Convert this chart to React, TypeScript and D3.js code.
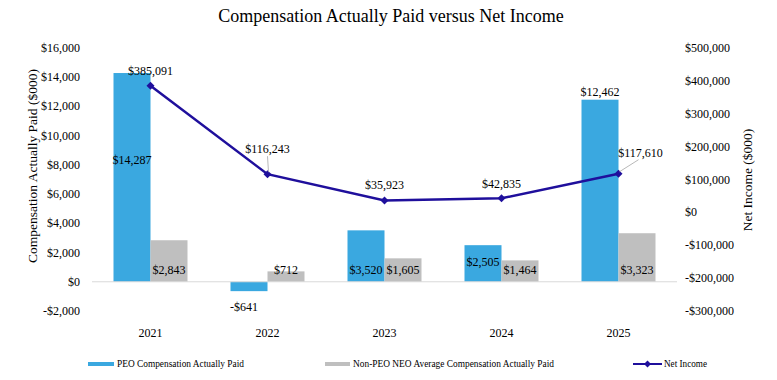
import React from "react";
import * as d3 from "d3";

const years = ["2021", "2022", "2023", "2024", "2025"];
const peoCap = [14287, -641, 3520, 2505, 12462];
const neoCap = [2843, 712, 1605, 1464, 3323];
const netIncome = [385091, 116243, 35923, 42835, 117610];
const leftTicks = [-2000, 0, 2000, 4000, 6000, 8000, 10000, 12000, 14000, 16000];
const rightTicks = [-300000, -200000, -100000, 0, 100000, 200000, 300000, 400000, 500000];

// label placement styling (offsets in px)
const peoLabelMode = ["mid", "below", "base", "baseHigh", "above"];
const niLabelOffset: [number, number, boolean][] = [
  [0, -11, false],
  [0, -21, true],
  [0, -12, false],
  [0, -10, false],
  [22, -17, true],
];

const W = 777;
const H = 380;
const BLUE = "#3AA8E0";
const GRAY = "#BFBFBF";
const NAVY = "#1F0F9C";
const FONT = "Liberation Serif, DejaVu Serif, serif";

const fmt = (v: number) => (v < 0 ? "-$" : "$") + d3.format(",")(Math.abs(v));

export default function App() {
  const x = d3.scaleBand<string>().domain(years).range([92, 677]).paddingInner(0).paddingOuter(0);
  const sub = d3.scaleBand<string>().domain(["peo", "neo"]).range([21.5, 95.5]);
  const yL = d3.scaleLinear().domain([-2000, 16000]).range([311, 48]);
  const yR = d3.scaleLinear().domain([-300000, 500000]).range([311, 48]);
  const bw = sub.bandwidth();
  const cx = (y: string) => (x(y) as number) + x.bandwidth() / 2;

  const line = d3
    .line<number>()
    .x((_, i) => cx(years[i]))
    .y((d) => yR(d));

  const y0 = yL(0);

  return (
    <svg width={W} height={H} style={{ position: "absolute", left: 0, top: 0 }}>
      <rect x={0} y={0} width={W} height={H} fill="#fff" />
      <g fontFamily={FONT}>
        <text x={391} y={22} textAnchor="middle" fontSize={18} fill="#000">
          Compensation Actually Paid versus Net Income
        </text>

        {/* left axis */}
        {leftTicks.map((t) => (
          <text key={t} x={80} y={yL(t) + 4} textAnchor="end" fontSize={12} fill="#000">
            {fmt(t)}
          </text>
        ))}
        <text transform={`translate(37,166) rotate(-90)`} textAnchor="middle" fontSize={13.5} fill="#000">
          Compensation Actually Paid ($000)
        </text>

        {/* right axis */}
        {rightTicks.map((t) => (
          <text key={t} x={685} y={yR(t) + 4} textAnchor="start" fontSize={12} fill="#000">
            {fmt(t)}
          </text>
        ))}
        <text transform={`translate(752,180) rotate(-90)`} textAnchor="middle" fontSize={13.5} fill="#000">
          Net Income ($000)
        </text>

        {/* bars */}
        {years.map((yr, i) => {
          const xb = x(yr) as number;
          const v = peoCap[i];
          const n = neoCap[i];
          return (
            <g key={yr}>
              <rect
                x={xb + (sub("peo") as number)}
                y={Math.min(yL(v), y0)}
                width={bw}
                height={Math.abs(yL(v) - y0)}
                fill={BLUE}
              />
              <rect
                x={xb + (sub("neo") as number)}
                y={Math.min(yL(n), y0)}
                width={bw}
                height={Math.abs(yL(n) - y0)}
                fill={GRAY}
              />
            </g>
          );
        })}

        {/* baseline */}
        <line x1={92} x2={677} y1={y0} y2={y0} stroke="#D9D9D9" strokeWidth={1} />

        {/* category labels */}
        {years.map((yr) => (
          <text key={yr} x={cx(yr)} y={337} textAnchor="middle" fontSize={12} fill="#000">
            {yr}
          </text>
        ))}

        {/* bar labels */}
        {years.map((yr, i) => {
          const xb = x(yr) as number;
          const v = peoCap[i];
          const px = xb + (sub("peo") as number) + bw / 2;
          const mode = peoLabelMode[i];
          let ly = y0 - 8;
          let lx = px;
          if (mode === "mid") ly = (yL(v) + y0) / 2 - 13;
          if (mode === "below") {
            ly = yL(v) + 20;
            lx = px - 5;
          }
          if (mode === "baseHigh") ly = y0 - 16;
          if (mode === "above") ly = yL(v) - 4;
          const nx = xb + (sub("neo") as number) + bw / 2;
          return (
            <g key={"l" + yr} fontSize={12} fill="#000">
              <text x={lx} y={ly} textAnchor="middle">
                {fmt(v)}
              </text>
              <text x={nx} y={y0 - 8} textAnchor="middle">
                {fmt(neoCap[i])}
              </text>
            </g>
          );
        })}

        {/* net income line */}
        <path d={line(netIncome) || ""} fill="none" stroke={NAVY} strokeWidth={2.5} />
        {netIncome.map((v, i) => {
          const px = cx(years[i]);
          const py = yR(v);
          const s = 4;
          return (
            <path
              key={"m" + i}
              d={`M${px},${py - s}L${px + s},${py}L${px},${py + s}L${px - s},${py}Z`}
              fill={NAVY}
            />
          );
        })}
        {netIncome.map((v, i) => {
          const px = cx(years[i]);
          const py = yR(v);
          const [dx, dy, leader] = niLabelOffset[i];
          return (
            <g key={"nl" + i}>
              {leader && (
                <line
                  x1={px + 1}
                  y1={py - 2}
                  x2={dx === 0 ? px : px + dx - 2}
                  y2={py + dy + 3}
                  stroke="#A6A6A6"
                  strokeWidth={0.8}
                />
              )}
              <text x={px + dx} y={py + dy} textAnchor="middle" fontSize={12} fill="#000">
                {fmt(v)}
              </text>
            </g>
          );
        })}

        {/* legend */}
        <g fontSize={10} fill="#000">
          <rect x={88} y={362} width={26} height={4} fill={BLUE} />
          <text x={117} y={367} textLength={127} lengthAdjust="spacingAndGlyphs">
            PEO Compensation Actually Paid
          </text>
          <rect x={325} y={362} width={25} height={4} fill={GRAY} />
          <text x={353} y={367} textLength={201} lengthAdjust="spacingAndGlyphs">
            Non-PEO NEO Average Compensation Actually Paid
          </text>
          <line x1={633} x2={662} y1={364} y2={364} stroke={NAVY} strokeWidth={2} />
          <path d="M647.5,360.5L651,364L647.5,367.5L644,364Z" fill={NAVY} />
          <text x={664} y={367} textLength={43} lengthAdjust="spacingAndGlyphs">
            Net Income
          </text>
        </g>
      </g>
    </svg>
  );
}
